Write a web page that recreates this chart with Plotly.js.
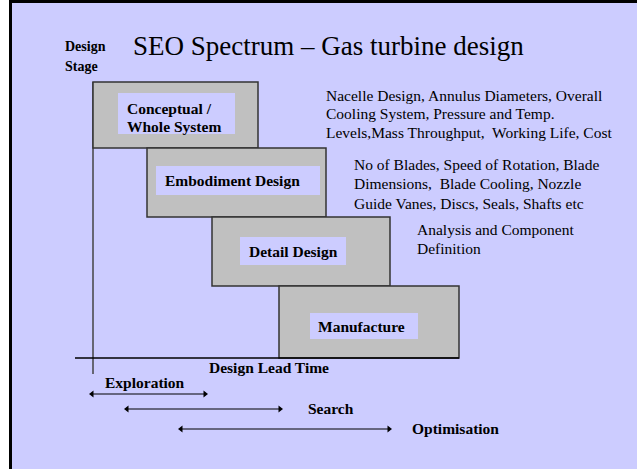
<!DOCTYPE html>
<html>
<head>
<meta charset="utf-8">
<script src="https://cdn.plot.ly/plotly-3.0.1.min.js"></script>
<style>html,body{margin:0;padding:0;background:#CCCCFF;}#chart{width:637px;height:469px;}</style>
</head>
<body>
<div id="chart"></div>
<script>
// ---- data ----
const stageLabels = [['Conceptual /', 'Whole System'], ['Embodiment Design'], ['Detail Design'], ['Manufacture']];
const stageStart = [0, 5.4, 11.9, 18.6];      // design lead time units
const stageEnd = [16.5, 23.3, 29.7, 36.6];
const stageTop = [0, 0.957, 1.957, 2.957];    // design stage units
const stageBottom = [0.957, 1.957, 2.957, 4.0];
const stageNotes = [
  ['Nacelle Design, Annulus Diameters, Overall', 'Cooling System, Pressure and Temp.', 'Levels,Mass Throughput,\u00a0 Working Life, Cost'],
  ['No of Blades, Speed of Rotation, Blade', 'Dimensions,\u00a0 Blade Cooling, Nozzle', 'Guide Vanes, Discs, Seals, Shafts etc'],
  ['Analysis and Component', 'Definition'],
  []
];
const phaseLabels = ['Exploration', 'Search', 'Optimisation'];
const phaseStart = [-0.1, 3.4, 8.8];
const phaseEnd = [11.2, 18.7, 29.6];

// ---- layout helpers (pixel -> axis units) ----
const W = 637, H = 469;
const X = p => (p - 93) / 10;
const Y = p => (p - 82) / 69;
const PX = p => p / W;
const PY = p => 1 - p / H;
const FONT = 'Liberation Serif, Times New Roman, serif';
const BG = '#CCCCFF';

const labelRects = [[118, 235, 93, 134], [156, 320, 166, 195], [240, 346, 237, 265], [310, 418, 313, 339]];
const labelText = [[125, 108], [163, 180], [247, 251], [316, 326]];
const labelLineGap = 18;
const notePos = [[324, 95, 18.5], [352, 164.5, 19.3], [415, 230, 19]];
const phaseRowPx = [394, 409, 429];
const phaseTextPos = [[103, 382], [306, 408], [410, 428]];

const shapes = [];
const annotations = [];
function txt(xp, yp, text, size) {
  annotations.push({xref: 'paper', yref: 'paper', x: PX(xp), y: PY(yp), xanchor: 'left', yanchor: 'middle',
    align: 'left', showarrow: false, text: text, font: {family: FONT, size: size, color: '#000'}});
}

// frame
shapes.push({type: 'rect', xref: 'paper', yref: 'paper', x0: 0, x1: PX(9), y0: 0, y1: 1, fillcolor: '#FFFFFF', line: {width: 0}});
shapes.push({type: 'rect', xref: 'paper', yref: 'paper', x0: PX(9), x1: PX(12), y0: 0, y1: 1, fillcolor: '#000000', line: {width: 0}});
shapes.push({type: 'rect', xref: 'paper', yref: 'paper', x0: PX(9), x1: 1, y0: PY(3), y1: 1, fillcolor: '#000000', line: {width: 0}});

// vertical axis line
shapes.push({type: 'line', xref: 'x', yref: 'y', x0: 0, x1: 0, y0: stageTop[0], y1: Y(374), line: {color: '#444444', width: 1.5}});

for (let i = 0; i < stageLabels.length; i++) {
  shapes.push({type: 'rect', xref: 'x', yref: 'y', x0: stageStart[i], x1: stageEnd[i], y0: stageTop[i], y1: stageBottom[i],
    fillcolor: '#C0C0C0', line: {color: '#333333', width: 1.5}});
  const r = labelRects[i];
  shapes.push({type: 'rect', xref: 'x', yref: 'y', x0: X(r[0]), x1: X(r[1]), y0: Y(r[2]), y1: Y(r[3]),
    fillcolor: BG, line: {width: 0}});
  stageLabels[i].forEach((line, k) => txt(labelText[i][0], labelText[i][1] + k * labelLineGap, '<b>' + line + '</b>', 15.5));
  if (stageNotes[i].length) {
    stageNotes[i].forEach((line, k) => txt(notePos[i][0], notePos[i][1] + k * notePos[i][2], line, 15.5));
  }
}
// horizontal axis line (design lead time)
shapes.push({type: 'line', xref: 'x', yref: 'y', x0: X(75), x1: stageEnd[3], y0: stageBottom[3], y1: stageBottom[3], line: {color: '#000000', width: 1.5}});

// titles
txt(131, 46, 'SEO Spectrum – Gas turbine design', 27);
txt(63, 47, '<b>Design</b>', 14);
txt(63, 66, '<b>Stage</b>', 14);
txt(207, 367, '<b>Design Lead Time</b>', 15.5);

// phases
const traces = [];
for (let i = 0; i < phaseLabels.length; i++) {
  traces.push({type: 'scatter', mode: 'lines+markers', x: [phaseStart[i], phaseEnd[i]], y: [Y(phaseRowPx[i]), Y(phaseRowPx[i])],
    line: {color: '#000', width: 1}, marker: {symbol: ['triangle-left', 'triangle-right'], size: 6, color: '#000'}, hoverinfo: 'skip'});
  txt(phaseTextPos[i][0], phaseTextPos[i][1], '<b>' + phaseLabels[i] + '</b>', 15.5);
}

const layout = {
  width: W, height: H, margin: {l: 0, r: 0, t: 0, b: 0, pad: 0},
  paper_bgcolor: BG, plot_bgcolor: BG, showlegend: false,
  xaxis: {range: [X(0), X(W)], visible: false, fixedrange: true},
  yaxis: {range: [Y(H), Y(0)], visible: false, fixedrange: true},
  shapes: shapes, annotations: annotations
};
Plotly.newPlot('chart', traces, layout, {staticPlot: true, displayModeBar: false});
</script>
</body>
</html>
